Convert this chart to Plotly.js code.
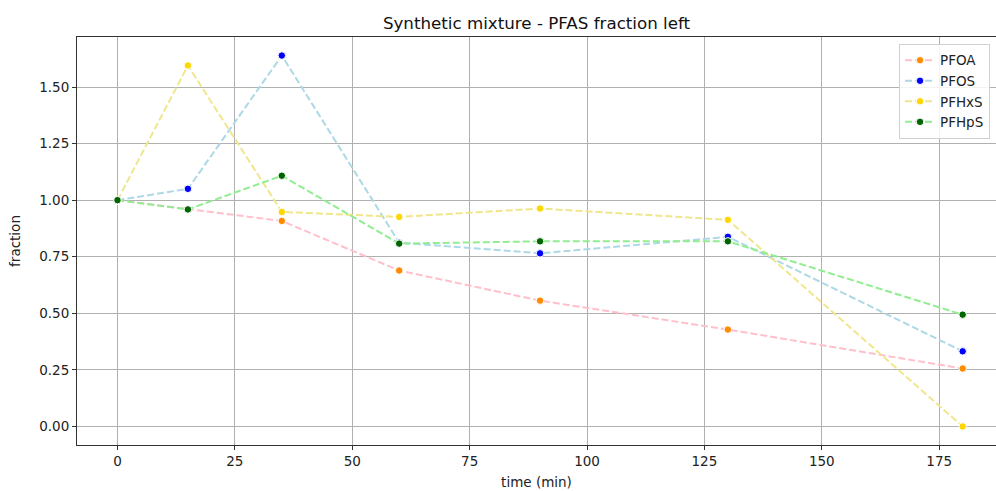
<!DOCTYPE html>
<html>
<head>
<meta charset="utf-8">
<script src="https://cdn.plot.ly/plotly-3.0.1.min.js"></script>
<style>html,body{margin:0;padding:0;overflow:hidden;background:#fff;}#chart{width:996px;height:491px;}</style>
</head>
<body>
<div id="chart"></div>
<script>
const times = [0, 15, 35, 60, 90, 130, 180];
const seriesNames = ["PFOA", "PFOS", "PFHxS", "PFHpS"];
const pfoa  = [1.0, 0.96, 0.908, 0.689, 0.556, 0.428, 0.256];
const pfos  = [1.0, 1.05, 1.639, 0.812, 0.765, 0.838, 0.332];
const pfhxs = [1.0, 1.595, 0.948, 0.926, 0.963, 0.913, 0.0];
const pfhps = [1.0, 0.959, 1.108, 0.808, 0.818, 0.818, 0.494];
const xTicks = [0, 25, 50, 75, 100, 125, 150, 175];
const yTicks = [0, 0.25, 0.5, 0.75, 1.0, 1.25, 1.5];
const yTickText = ["0.00", "0.25", "0.50", "0.75", "1.00", "1.25", "1.50"];

const values = [pfoa, pfos, pfhxs, pfhps];
const lineColors = ["#FFC0CB", "#ADD8E6", "#F0E68C", "#90EE90"];
const markerColors = ["#FF8C00", "#0000FF", "#FFD700", "#006400"];

const traces = seriesNames.map((name, i) => ({
  x: times, y: values[i], name: name, type: "scatter", mode: "lines+markers",
  line: {color: lineColors[i], width: 2, dash: "7px,3px"},
  marker: {color: markerColors[i], size: 7.5, line: {color: "#ffffff", width: 1}}
}));

const font = {family: "DejaVu Sans, sans-serif", size: 13.5, color: "#222"};
const layout = {
  width: 996, height: 491,
  margin: {l: 76.5, r: 0, t: 37, b: 46},
  paper_bgcolor: "#fff", plot_bgcolor: "#fff",
  font: font,
  showlegend: true,
  title: {text: "Synthetic mixture - PFAS fraction left", font: {family: "DejaVu Sans, sans-serif", size: 16.7, color: "#111"}, x: 0.5, xref: "paper", xanchor: "center", y: 1, yref: "paper", yanchor: "bottom", pad: {b: 8}},
  xaxis: {
    range: [-8.62, 187.1], tickvals: xTicks, ticktext: xTicks.map(String),
    showgrid: true, gridcolor: "#b0b0b0", gridwidth: 1,
    zeroline: false, showline: true, linecolor: "#333", linewidth: 1, mirror: true,
    ticks: "outside", ticklen: 4, tickcolor: "#333",
    title: {text: "time (min)", font: font, standoff: 9}
  },
  yaxis: {
    range: [-0.082, 1.721], tickvals: yTicks, ticktext: yTickText,
    showgrid: true, gridcolor: "#b0b0b0", gridwidth: 1,
    zeroline: false, showline: true, linecolor: "#333", linewidth: 1,
    ticks: "outside", ticklen: 4, tickcolor: "#333",
    title: {text: "fraction", font: font, standoff: 15}
  },
  legend: {
    x: 0.9935, xanchor: "right", y: 0.983, yanchor: "top",
    bgcolor: "rgba(255,255,255,0.85)", bordercolor: "#d0d0d0", borderwidth: 1,
    font: font, itemwidth: 30, tracegroupgap: 0
  }
};
Plotly.newPlot("chart", traces, layout, {displayModeBar: false, staticPlot: true});
</script>
</body>
</html>
